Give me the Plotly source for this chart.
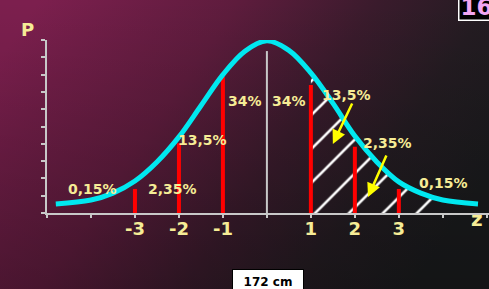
import base64
import plotly.graph_objects as go

# ---- data ----
curve_z = [-4.8, -4, -3.5, -3, -2.5, -2, -1.5, -1, -0.5, 0, 0.5, 1, 1.5, 2, 2.5, 3, 3.5, 4, 4.8]
curve_p = [0.52, 0.75, 1.15, 1.85, 2.95, 4.4, 6.2, 8.0, 9.35, 9.95, 9.4, 8.1, 6.35, 4.45, 2.95, 1.8, 1.15, 0.75, 0.52]

red_z = [-3, -2, -1, 1, 2, 3]
red_h = [1.39, 4.03, 7.86, 7.4, 3.83, 1.39]
mean_z = 0
mean_h = 9.36

hatch_from, hatch_to = 1, 4

tick_vals = [-5, -4, -3, -2, -1, 0, 1, 2, 3, 4, 5]
tick_text = ["", "", "-3", "-2", "-1", "", "1", "2", "3", "", ""]

pct_labels = ["0,15%", "2,35%", "13,5%", "34%", "34%", "13,5%", "2,35%", "0,15%"]
pct_x = [-3.96, -2.14, -1.47, -0.5, 0.5, 1.8, 2.74, 4.01]
pct_y = [1.4, 1.4, 4.2, 6.5, 6.5, 6.85, 4.05, 1.75]

YEL = "#f6ec96"
CYAN = "#00e8f0"
AX = "#c8c8c8"
FONT = "DejaVu Sans"

W, H = 489, 289
L, R, T, B = 47, 0, 40, 76

fig = go.Figure()

# hatched region
hz = [z for z in curve_z if hatch_from <= z <= hatch_to]
hp = [p for z, p in zip(curve_z, curve_p) if hatch_from <= z <= hatch_to]
fig.add_trace(go.Scatter(
    x=hz, y=hp, mode="lines", line=dict(width=0, shape="spline"),
    fill="tozeroy", fillcolor="rgba(0,0,0,0)",
    fillpattern=dict(shape="/", fgcolor="white", fgopacity=1, bgcolor="rgba(0,0,0,0)",
                     size=24, solidity=0.11),
    hoverinfo="skip", showlegend=False))

# red lines
rx, ry = [], []
for z, h in zip(red_z, red_h):
    rx += [z, z, None]
    ry += [0, h, None]
fig.add_trace(go.Scatter(x=rx, y=ry, mode="lines", line=dict(color="#ff0000", width=4),
                         hoverinfo="skip", showlegend=False))
# mean line
fig.add_trace(go.Scatter(x=[mean_z, mean_z], y=[0, mean_h], mode="lines",
                         line=dict(color=AX, width=2), hoverinfo="skip", showlegend=False))
# curve
fig.add_trace(go.Scatter(x=curve_z, y=curve_p, mode="lines",
                         line=dict(color=CYAN, width=5, shape="spline", smoothing=1.0),
                         hoverinfo="skip", showlegend=False))

pw, ph = W - L - R, H - T - B

def px_x(p):
    return (p - L) / pw

def px_y(p):
    return (H - B - p) / ph

ann = []
for t, x, y in zip(pct_labels, pct_x, pct_y):
    ann.append(dict(x=x, y=y, xref="x", yref="y", text=t, showarrow=False,
                    font=dict(family=FONT, size=14, color=YEL, weight="bold")))
# arrows
ann.append(dict(x=1.5, y=3.99, xref="x", yref="y", ax=20, ay=-42, text="", showarrow=True,
                arrowcolor="#ffff00", arrowwidth=2.5, arrowhead=2, arrowsize=1.1))
ann.append(dict(x=2.3, y=0.92, xref="x", yref="y", ax=19, ay=-43, text="", showarrow=True,
                arrowcolor="#ffff00", arrowwidth=2.5, arrowhead=2, arrowsize=1.1))
ann.append(dict(x=0, y=-0.5, xref="x", yref="y", ax=0, ay=38, text="", showarrow=True,
                arrowcolor="#ffff00", arrowwidth=2.5, arrowhead=2, arrowsize=1.1))
# 172 cm box
ann.append(dict(x=0.03, y=px_y(269), xref="x", yref="paper", yanchor="top", xanchor="center",
                text="172 cm", showarrow=False, bgcolor="white", bordercolor="black",
                borderwidth=1, width=68, height=22,
                font=dict(family=FONT, size=12, color="black", weight="bold")))
# page number box
ann.append(dict(x=px_x(458), y=px_y(-8), xref="paper", yref="paper",
                xanchor="left", yanchor="top", text="16", showarrow=False, bgcolor="black",
                bordercolor="white", borderwidth=1.5, width=44, height=24, align="left",
                font=dict(family=FONT, size=23, color="#f2a6f2", weight="bold")))
# axis letters
ann.append(dict(x=px_x(19), y=px_y(17), xref="paper", yref="paper",
                text="P", showarrow=False, font=dict(family=FONT, size=18, color=YEL, weight="bold")))
ann.append(dict(x=px_x(485), y=px_y(233), xref="paper", yref="paper",
                text="z", showarrow=False, font=dict(family=FONT, size=20, color=YEL, weight="bold")))

svg = f'''<svg xmlns="http://www.w3.org/2000/svg" width="{W}" height="{H}" viewBox="0 0 {W} {H}">
<defs>
<linearGradient id="g" x1="0" y1="0.2" x2="1" y2="0.6">
<stop offset="0" stop-color="#7c1f4e"/>
<stop offset="0.35" stop-color="#5e1c3d"/>
<stop offset="0.6" stop-color="#3a1b2c"/>
<stop offset="0.8" stop-color="#241c22"/>
<stop offset="1" stop-color="#1a1b1d"/>
</linearGradient>
<linearGradient id="v" x1="0" y1="0" x2="0" y2="1">
<stop offset="0" stop-color="#000" stop-opacity="0"/>
<stop offset="1" stop-color="#000" stop-opacity="0.25"/>
</linearGradient>
</defs>
<rect width="{W}" height="{H}" fill="url(#g)"/>
<rect width="{W}" height="{H}" fill="url(#v)"/>
</svg>'''
src = "data:image/svg+xml;base64," + base64.b64encode(svg.encode()).decode()

fig.update_layout(
    width=W, height=H, margin=dict(l=L, r=R, t=T, b=B),
    paper_bgcolor="#3a1b2c", plot_bgcolor="rgba(0,0,0,0)",
    images=[dict(source=src, xref="paper", yref="paper", x=-L / pw, y=1 + T / ph,
                 sizex=W / pw, sizey=H / ph, sizing="stretch", layer="below")],
    annotations=ann, showlegend=False,
    xaxis=dict(range=[-5, 5.05], tickvals=tick_vals, ticktext=tick_text, showgrid=False,
               zeroline=False, showline=True, linecolor=AX, linewidth=2, ticks="outside",
               ticklen=3, tickcolor=AX, tickwidth=2, fixedrange=True, ticklabelstandoff=-5,
               tickfont=dict(family=FONT, size=18, color=YEL, weight="bold")),
    yaxis=dict(range=[0, 10], dtick=1, tick0=0, showgrid=False, zeroline=False,
               showline=True, linecolor=AX, linewidth=2, ticks="outside", ticklen=4,
               tickcolor=AX, tickwidth=2, showticklabels=False, fixedrange=True),
)
fig.write_html("out.html", config={"displayModeBar": False},
               post_script="document.body.style.margin='0';document.body.style.overflow='hidden';")
